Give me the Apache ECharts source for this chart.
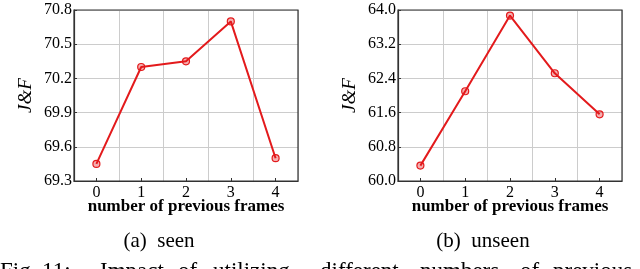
<!DOCTYPE html>
<html><head><meta charset="utf-8">
<script src="https://cdn.jsdelivr.net/npm/echarts@6/dist/echarts.min.js"></script>
<style>html,body{margin:0;padding:0;background:#fff}#c{width:640px;height:269px}</style>
</head><body><div id="c"></div>
<script>
var categories = ['0','1','2','3','4'];
var seenValues = [69.45, 70.3, 70.35, 70.7, 69.5];
var unseenValues = [60.36, 62.1, 63.87, 62.52, 61.56];
var seenTicks = {min: 69.3, max: 70.8, interval: 0.3};
var unseenTicks = {min: 60.0, max: 64.0, interval: 0.8};
var xName = 'number of previous frames';
var yName = 'J&F';
var captions = ['(a)  seen', '(b)  unseen'];
var figWords = ['Fig.', '11:', 'Impact', 'of', 'utilizing', 'different', 'numbers', 'of', 'previous'];

var serif = '"Liberation Serif", "DejaVu Serif", serif';
var red = '#e31a1c';
function xAxis(gi){
  return {type:'category', gridIndex:gi, data:categories, boundaryGap:true,
    name:xName, nameLocation:'middle', nameGap:17, nameMoveOverlap:false,
    nameTextStyle:{fontFamily:serif, fontWeight:'bold', fontSize:17, color:'#000'},
    axisLine:{lineStyle:{color:'#333', width:1.2}},
    axisTick:{show:true, inside:true, alignWithLabel:true, length:3, lineStyle:{color:'#333'}},
    axisLabel:{fontFamily:serif, fontSize:16, color:'#000', margin:4},
    splitLine:{show:true, lineStyle:{color:'#ccc', width:1}}};
}
function yAxis(gi, t, dec){
  return {type:'value', gridIndex:gi, min:t.min, max:t.max, interval:t.interval,
    name:yName, nameLocation:'middle', nameGap:39, nameMoveOverlap:false,
    nameTextStyle:{fontFamily:serif, fontStyle:'italic', fontSize:19, color:'#000'},
    axisLine:{show:true, lineStyle:{color:'#333', width:1.2}},
    axisTick:{show:true, inside:true, length:3, lineStyle:{color:'#333'}},
    axisLabel:{fontFamily:serif, fontSize:16, color:'#000', margin:2,
      formatter:function(v){return v.toFixed(dec);}},
    splitLine:{show:true, lineStyle:{color:'#ccc', width:1}}};
}
function series(i, data){
  return {type:'line', xAxisIndex:i, yAxisIndex:i, data:data,
    symbol:'circle', symbolSize:7, showSymbol:true,
    lineStyle:{color:red, width:2},
    itemStyle:{color:'rgba(227,26,28,0.35)', borderColor:red, borderWidth:1.2},
    animation:false};
}
var wordX = [0, 42, 100, 178, 213, 320, 420, 520, 553];
var graphics = [
  {type:'text', style:{text:captions[0], font:'21px '+serif, fill:'#000', textAlign:'center', textVerticalAlign:'middle'}, position:[159,241]},
  {type:'text', style:{text:captions[1], font:'21px '+serif, fill:'#000', textAlign:'center', textVerticalAlign:'middle'}, position:[483,241]},
  {type:'rect', shape:{x:74,y:10,width:224,height:171}, style:{fill:'none', stroke:'#333', lineWidth:1.2}, z:10},
  {type:'rect', shape:{x:398,y:10,width:224,height:171}, style:{fill:'none', stroke:'#333', lineWidth:1.2}, z:10}
];
figWords.forEach(function(w, i){
  graphics.push({type:'text', style:{text:w, font:'23px '+serif, fill:'#000', textAlign:'left', textVerticalAlign:'bottom'}, position:[wordX[i], 283]});
});
var chart = echarts.init(document.getElementById('c'), null, {renderer:'canvas'});
chart.setOption({
  animation:false,
  grid:[{left:74, top:10, width:224, height:171},
        {left:398, top:10, width:224, height:171}],
  xAxis:[xAxis(0), xAxis(1)],
  yAxis:[yAxis(0, seenTicks, 1), yAxis(1, unseenTicks, 1)],
  series:[series(0, seenValues), series(1, unseenValues)],
  graphic:graphics
});
</script></body></html>
